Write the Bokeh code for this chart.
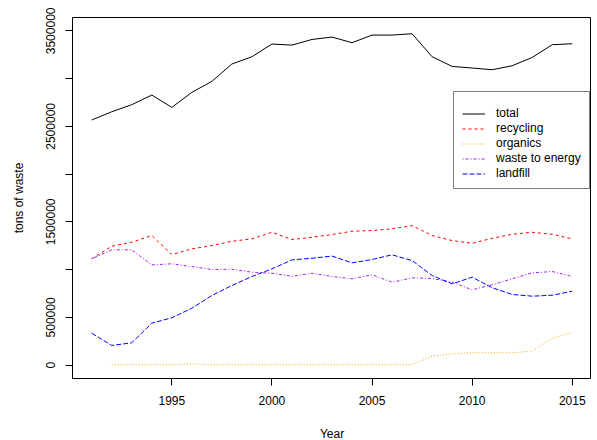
import numpy as np
from bokeh.plotting import figure
from bokeh.models import ColumnDataSource, FixedTicker
from bokeh.embed import file_html
from bokeh.resources import INLINE

years = list(range(1991, 2016))
total = [2567000, 2653000, 2727000, 2828000, 2699000, 2856000, 2971000, 3153000, 3229000, 3362000,
         3351000, 3410000, 3435000, 3376000, 3456000, 3456000, 3470000, 3229000, 3128000, 3111000,
         3093000, 3135000, 3222000, 3355000, 3365000]
recycling = [1113000, 1245000, 1287000, 1357000, 1158000, 1217000, 1252000, 1297000, 1322000, 1391000,
             1315000, 1339000, 1367000, 1402000, 1409000, 1427000, 1461000, 1357000, 1304000, 1276000,
             1328000, 1370000, 1391000, 1370000, 1322000]
organics = [np.nan, 4000, 4000, 4000, 4000, 14000, 4000, 4000, 4000, 4000,
            4000, 4000, 4000, 4000, 4000, 4000, 4000, 94000, 119000, 130000,
            130000, 130000, 147000, 282000, 339000]
waste_to_energy = [1113000, 1207000, 1207000, 1050000, 1061000, 1032000, 1001000, 1004000, 973000, 962000,
                   931000, 962000, 928000, 904000, 946000, 868000, 914000, 907000, 868000, 789000,
                   841000, 904000, 967000, 980000, 928000]
landfill = [335000, 206000, 234000, 439000, 496000, 596000, 729000, 834000, 928000, 1008000,
            1102000, 1119000, 1142000, 1071000, 1106000, 1155000, 1095000, 938000, 851000, 921000,
            810000, 740000, 722000, 732000, 774000]

x_ticks = [1995, 2000, 2005, 2010, 2015]
y_ticks = [0, 500000, 1000000, 1500000, 2000000, 2500000, 3000000, 3500000]
y_tick_labels = ["0", "500000", "", "1500000", "", "2500000", "", "3500000"]

series_names = ["total", "recycling", "organics", "waste to energy", "landfill"]
series_values = [total, recycling, organics, waste_to_energy, landfill]
series_colors = ["#000000", "#FF0000", "#FFA500", "#A020F0", "#0000FF"]
series_dashes = ["solid", "3 3", "1 2", "1 2 3 2", "5 2"]

FONT = "Liberation Sans"

p = figure(frame_width=519, frame_height=361,
           x_range=(1990.04, 2015.96), y_range=(-140000, 3640000),
           output_backend="svg", toolbar_location=None,
           min_border_left=72, min_border_right=0, min_border_top=17, min_border_bottom=62,
           background_fill_color="white", border_fill_color="white")

for name, vals, col, dash in zip(series_names, series_values, series_colors, series_dashes):
    src = ColumnDataSource(dict(x=np.array(years, dtype=float), y=np.array(vals, dtype=float)))
    p.line("x", "y", source=src, line_color=col, line_width=1, line_dash=dash, legend_label=name)

p.grid.visible = False
p.outline_line_color = "black"
p.outline_line_width = 1
p.outline_line_alpha = 1

p.xaxis.ticker = FixedTicker(ticks=x_ticks)
p.yaxis.ticker = FixedTicker(ticks=y_ticks)
p.yaxis.major_label_overrides = {t: lab for t, lab in zip(y_ticks, y_tick_labels)}
p.xaxis.major_label_overrides = {t: str(t) for t in x_ticks}

for ax in (p.xaxis[0], p.yaxis[0]):
    ax.axis_line_color = None
    ax.major_tick_in = 0
    ax.major_tick_out = 7
    ax.major_tick_line_color = "black"
    ax.minor_tick_line_color = None
    ax.major_label_text_font = FONT
    ax.major_label_text_font_size = "12px"
    ax.major_label_text_color = "black"
    ax.axis_label_text_font = FONT
    ax.axis_label_text_font_size = "12px"
    ax.axis_label_text_font_style = "normal"
    ax.axis_label_text_color = "black"

p.xaxis.axis_label = "Year"
p.yaxis.axis_label = "tons of waste"
p.yaxis.major_label_orientation = "vertical"
p.xaxis.major_label_standoff = 10
p.xaxis.axis_label_standoff = 19
p.yaxis.major_label_standoff = 10
p.yaxis.axis_label_standoff = 18

lg = p.legend[0]
lg.location = (381, 189)
lg.margin = 0
lg.padding = 8
lg.spacing = 1
lg.glyph_width = 23
lg.glyph_height = 13
lg.label_height = 13
lg.label_standoff = 11
lg.label_text_font = FONT
lg.label_text_font_size = "12px"
lg.label_text_color = "black"
lg.title = " "
lg.title_text_font_size = "5px"
lg.title_standoff = 0
lg.border_line_color = "black"
lg.border_line_width = 1
lg.background_fill_color = "white"
lg.background_fill_alpha = 1

open("out.html", "w").write(file_html(p, INLINE))
